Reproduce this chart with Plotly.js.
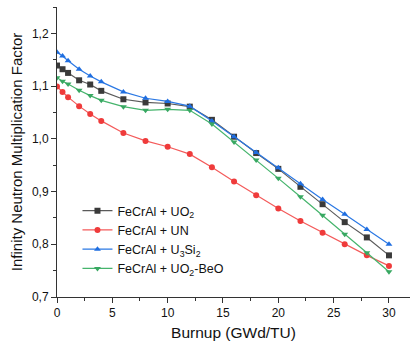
<!DOCTYPE html>
<html>
<head>
<meta charset="utf-8">
<script src="https://cdn.plot.ly/plotly-3.0.1.min.js"></script>
<style>html,body{margin:0;padding:0;background:#fff;}#chart{width:410px;height:348px;}</style>
</head>
<body>
<div id="chart"></div>
<script>
const burnup = [0, 0.5, 1, 2, 3, 4, 6, 8, 10, 12, 14, 16, 18, 20, 22, 24, 26, 28, 30];
const kUO2   = [1.139, 1.132, 1.125, 1.111, 1.103, 1.091, 1.075, 1.069, 1.067, 1.061, 1.036, 1.004, 0.973, 0.943, 0.909, 0.876, 0.842, 0.813, 0.779];
const kUN    = [1.099, 1.089, 1.079, 1.062, 1.047, 1.034, 1.011, 0.996, 0.985, 0.971, 0.946, 0.919, 0.893, 0.868, 0.844, 0.822, 0.800, 0.779, 0.759];
const kU3Si2 = [1.164, 1.157, 1.148, 1.132, 1.119, 1.108, 1.089, 1.077, 1.071, 1.062, 1.034, 1.004, 0.974, 0.945, 0.915, 0.885, 0.857, 0.828, 0.800];
const kBeO   = [1.116, 1.109, 1.104, 1.092, 1.082, 1.073, 1.061, 1.054, 1.056, 1.054, 1.028, 0.994, 0.960, 0.925, 0.890, 0.855, 0.819, 0.784, 0.748];
const seriesNames = ['FeCrAl + UO<sub>2</sub>', 'FeCrAl + UN', 'FeCrAl + U<sub>3</sub>Si<sub>2</sub>', 'FeCrAl + UO<sub>2</sub>-BeO'];

const styles = [
  {line: '#5a5a5a', marker: '#3a3a3a', symbol: 'square'},
  {line: '#f45a5a', marker: '#ef3b3b', symbol: 'circle'},
  {line: '#2a78e4', marker: '#1f6ee0', symbol: 'triangle-up'},
  {line: '#45b46c', marker: '#38a862', symbol: 'triangle-down'}
];
const ys = [kUO2, kUN, kU3Si2, kBeO];
const traces = ys.map((y, i) => ({
  x: burnup, y: y, name: seriesNames[i], type: 'scatter', mode: 'lines+markers',
  line: {color: styles[i].line, width: 1.2},
  marker: {color: styles[i].marker, symbol: styles[i].symbol, size: 6}
}));

const fam = "'Liberation Sans', Arial, sans-serif";
const layout = {
  width: 410, height: 348,
  margin: {l: 57, r: 0, t: 7, b: 51},
  separators: ',.',
  paper_bgcolor: '#fff', plot_bgcolor: '#fff',
  font: {family: fam, color: '#111'},
  showlegend: true,
  legend: {x: 0.058, y: 0.348, xanchor: 'left', yanchor: 'top', bgcolor: 'rgba(0,0,0,0)',
           font: {size: 12.5, family: fam, color: '#111'}, tracegroupgap: 0, itemwidth: 30},
  xaxis: {
    range: [0, 31.9], showgrid: false, zeroline: false,
    showline: true, linecolor: '#333', linewidth: 1,
    ticks: 'outside', ticklen: 5, tickwidth: 1, tickcolor: '#333',
    tick0: 0, dtick: 5, tickfont: {size: 12, color: '#111'},
    minor: {ticks: 'outside', ticklen: 3, tickcolor: '#333', dtick: 2.5, tick0: 0, showgrid: false},
    title: {text: 'Burnup (GWd/TU)', font: {size: 15.5, color: '#111'}, standoff: 7}
  },
  yaxis: {
    range: [0.7, 1.25], showgrid: false, zeroline: false,
    showline: true, linecolor: '#333', linewidth: 1,
    ticks: 'outside', ticklen: 5, tickwidth: 1, tickcolor: '#333',
    tick0: 0.7, dtick: 0.1, tickformat: '.1f', tickfont: {size: 12, color: '#111'},
    minor: {ticks: 'outside', ticklen: 3, tickcolor: '#333', dtick: 0.05, tick0: 0.7, showgrid: false},
    title: {text: 'Infinity Neutron Multiplication Factor', font: {size: 15, color: '#111'}, standoff: 5}
  }
};
Plotly.newPlot('chart', traces, layout, {displayModeBar: false, staticPlot: true});
</script>
</body>
</html>
